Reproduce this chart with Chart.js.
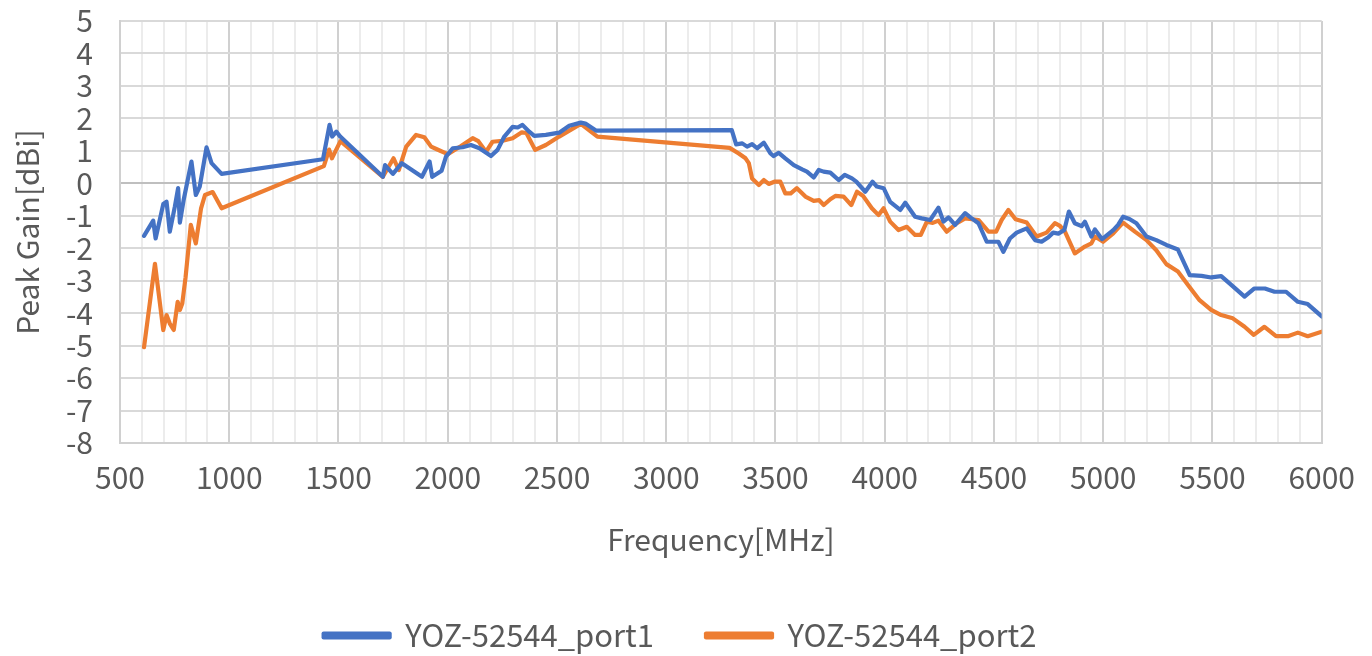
<!DOCTYPE html>
<html>
<head>
<meta charset="utf-8">
<script src="https://cdn.jsdelivr.net/npm/chart.js@4.4.1/dist/chart.umd.min.js"></script>
<style>
html,body{margin:0;padding:0;background:#ffffff;}
#wrap{width:1372px;height:656px;}
</style>
</head>
<body>
<div id="wrap"><canvas id="c" width="1372" height="656"></canvas></div>
<script>
// ---- Data ----
const seriesNames = ['YOZ-52544_port1', 'YOZ-52544_port2'];

const freq1 = [610,652,663,698,713,728,751,766,774,792,827,847,865,896,919,965,1429,1459,1471,1490,1508,1703,1713,1749,1790,1882,1917,1929,1972,1992,2023,2068,2106,2145,2198,2228,2259,2297,2320,2342,2373,2396,2449,2510,2556,2609,2630,2680,3300,3320,3348,3370,3393,3416,3447,3477,3492,3515,3545,3584,3622,3644,3675,3698,3720,3751,3789,3817,3850,3870,3911,3944,3964,3995,4025,4071,4094,4139,4170,4208,4246,4269,4292,4322,4368,4398,4429,4467,4520,4543,4573,4604,4650,4688,4718,4749,4771,4795,4822,4843,4870,4901,4916,4946,4962,4995,5046,5068,5091,5120,5152,5198,5243,5289,5342,5396,5450,5494,5540,5586,5647,5692,5740,5784,5837,5891,5936,6000];
const gain1 = [-1.62,-1.15,-1.70,-0.64,-0.57,-1.49,-0.72,-0.15,-1.21,-0.49,0.67,-0.36,-0.10,1.11,0.62,0.29,0.74,1.80,1.44,1.59,1.44,0.20,0.56,0.29,0.62,0.20,0.67,0.20,0.39,0.82,1.08,1.11,1.18,1.08,0.84,1.03,1.44,1.74,1.72,1.80,1.59,1.46,1.49,1.56,1.77,1.87,1.84,1.62,1.64,1.20,1.23,1.13,1.21,1.08,1.25,0.92,0.84,0.94,0.77,0.56,0.43,0.36,0.18,0.41,0.36,0.33,0.10,0.26,0.15,0.05,-0.26,0.05,-0.10,-0.15,-0.57,-0.82,-0.60,-1.03,-1.08,-1.13,-0.75,-1.18,-1.05,-1.28,-0.92,-1.08,-1.23,-1.80,-1.80,-2.11,-1.70,-1.52,-1.39,-1.75,-1.80,-1.66,-1.52,-1.55,-1.44,-0.87,-1.23,-1.32,-1.18,-1.64,-1.42,-1.72,-1.44,-1.28,-1.03,-1.10,-1.23,-1.64,-1.75,-1.90,-2.04,-2.83,-2.85,-2.90,-2.86,-3.13,-3.49,-3.24,-3.24,-3.34,-3.34,-3.65,-3.72,-4.10];

const freq2 = [610,660,698,713,728,746,764,774,785,800,824,847,871,889,924,965,1433,1457,1470,1509,1703,1752,1776,1810,1855,1893,1924,1950,2000,2061,2114,2140,2175,2205,2251,2297,2339,2360,2400,2449,2510,2609,2685,3290,3332,3363,3378,3393,3424,3447,3469,3495,3522,3545,3570,3598,3637,3675,3700,3721,3751,3774,3812,3847,3873,3900,3941,3972,3995,4025,4063,4101,4139,4165,4193,4220,4246,4284,4330,4368,4429,4475,4510,4535,4566,4599,4650,4695,4741,4779,4800,4825,4870,4916,4946,4962,5000,5046,5091,5145,5198,5243,5289,5342,5388,5441,5494,5540,5593,5647,5689,5738,5791,5845,5891,5936,6000];
const gain2 = [-5.05,-2.48,-4.52,-4.06,-4.32,-4.52,-3.65,-3.90,-3.70,-2.90,-1.28,-1.85,-0.77,-0.36,-0.27,-0.77,0.53,1.04,0.77,1.30,0.20,0.77,0.41,1.13,1.49,1.42,1.13,1.05,0.90,1.15,1.39,1.30,0.97,1.28,1.31,1.39,1.57,1.55,1.03,1.18,1.44,1.83,1.44,1.09,0.92,0.77,0.62,0.15,-0.05,0.10,-0.02,0.05,0.05,-0.31,-0.31,-0.15,-0.41,-0.54,-0.52,-0.67,-0.49,-0.39,-0.41,-0.67,-0.26,-0.38,-0.77,-0.98,-0.77,-1.18,-1.44,-1.34,-1.59,-1.59,-1.18,-1.22,-1.15,-1.49,-1.23,-1.08,-1.13,-1.49,-1.49,-1.13,-0.82,-1.11,-1.21,-1.64,-1.52,-1.23,-1.30,-1.49,-2.16,-1.95,-1.85,-1.64,-1.80,-1.54,-1.21,-1.49,-1.75,-2.06,-2.49,-2.72,-3.13,-3.60,-3.90,-4.06,-4.16,-4.42,-4.67,-4.42,-4.71,-4.71,-4.60,-4.71,-4.57];

const xTickLabels = [500,1000,1500,2000,2500,3000,3500,4000,4500,5000,5500,6000];
const yTickLabels = [5,4,3,2,1,0,-1,-2,-3,-4,-5,-6,-7,-8];

const xTitle = 'Frequency[MHz]';
const yTitle = 'Peak Gain[dBi]';

// ---- Chart ----
const FONT = '"Noto Sans CJK JP", "Noto Sans", sans-serif';
const TXT = '#595959';
const toPts = (xs, ys) => xs.map((x, i) => ({x: x, y: ys[i]}));

new Chart(document.getElementById('c'), {
  type: 'line',
  data: {
    datasets: [
      {label: seriesNames[0], data: toPts(freq1, gain1), borderColor: '#4472C4', backgroundColor: '#4472C4', borderWidth: 4.2, pointRadius: 0, tension: 0, fill: false, borderJoinStyle: 'round', borderCapStyle: 'round'},
      {label: seriesNames[1], data: toPts(freq2, gain2), borderColor: '#ED7D31', backgroundColor: '#ED7D31', borderWidth: 4.2, pointRadius: 0, tension: 0, fill: false, borderJoinStyle: 'round', borderCapStyle: 'round'}
    ]
  },
  options: {
    responsive: false,
    animation: false,
    events: [],
    layout: {padding: {left: 36, right: 48, top: 21, bottom: -5}},
    plugins: {
      tooltip: {enabled: false},
      legend: {
        position: 'bottom',
        labels: {
          font: {family: FONT, size: 31},
          color: TXT,
          boxWidth: 66,
          boxHeight: 4,
          padding: 52
        }
      }
    },
    scales: {
      x: {
        type: 'linear',
        min: 500, max: 6000,
        afterFit: s => { s.height = 125; },
        ticks: {
          stepSize: 100,
          maxTicksLimit: 200,
          autoSkip: false,
          maxRotation: 0,
          padding: 17,
          color: TXT,
          font: {family: FONT, size: 30},
          callback: v => xTickLabels.includes(v) ? String(v) : ''
        },
        grid: {
          drawTicks: false,
          color: c => (c.tick && xTickLabels.includes(c.tick.value)) ? '#d0d0d0' : '#ececec',
          lineWidth: 2
        },
        border: {display: true, color: '#d0d0d0', width: 2},
        title: {display: true, text: xTitle, color: TXT, font: {family: FONT, size: 30}, padding: {top: 0, bottom: 10}}
      },
      y: {
        type: 'linear',
        min: -8, max: 5,
        afterFit: s => { s.width = 84; s.paddingTop = 18; s.paddingBottom = 18; },
        ticks: {
          stepSize: 1,
          autoSkip: false,
          padding: 27,
          color: TXT,
          font: {family: FONT, size: 30},
          callback: v => yTickLabels.includes(v) ? String(v) : ''
        },
        grid: {
          drawTicks: false,
          color: c => (c.tick && c.tick.value === 0) ? '#bfbfbf' : '#d9d9d9',
          lineWidth: 2
        },
        border: {display: true, color: '#d0d0d0', width: 2},
        title: {display: true, text: yTitle, color: TXT, font: {family: FONT, size: 30}, padding: {top: -26, bottom: 0}}
      }
    }
  }
});
</script>
</body>
</html>
